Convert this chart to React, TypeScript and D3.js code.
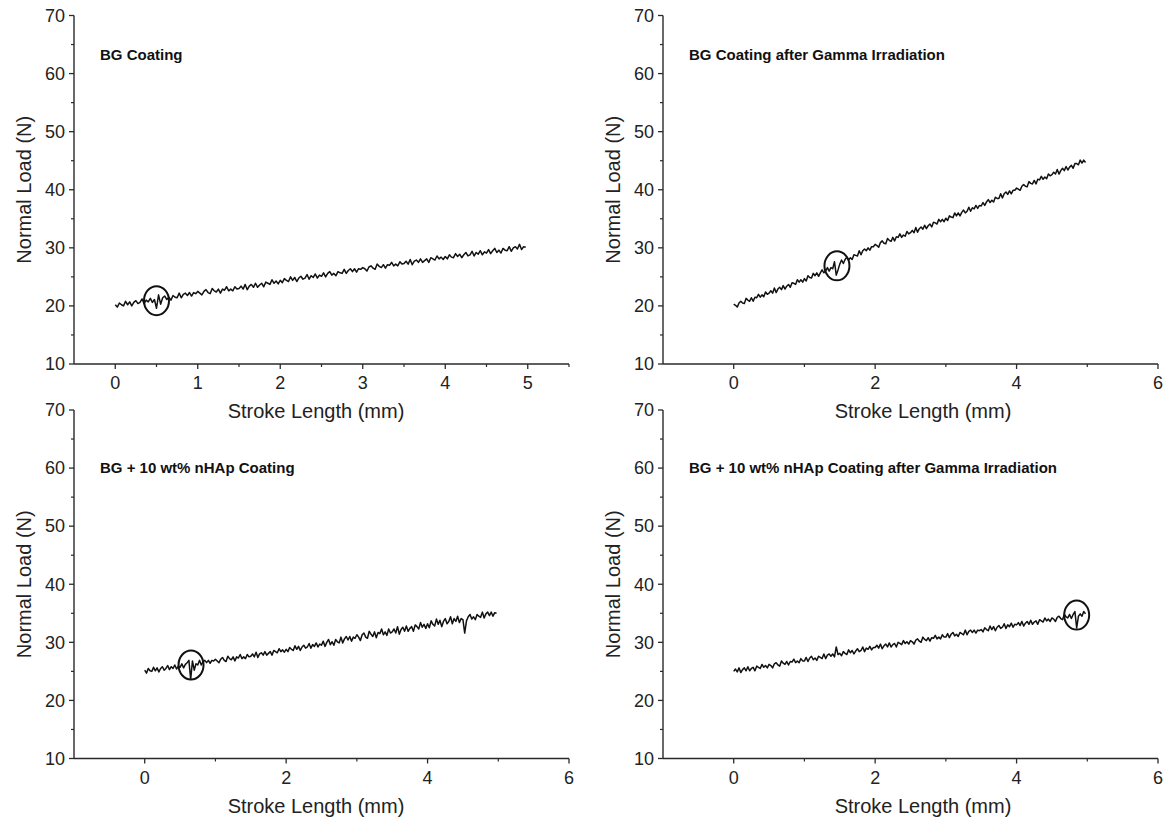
import React from "react";
import * as d3 from "d3";

// ---- data (Normal Load, N) sampled every 0.025 mm of stroke length ----
const STROKE_STEP = 0.025;

const BG_COATING = [
  20.2, 19.8, 20.5, 20.2, 20.0, 20.8, 20.2, 20.7, 20.0, 20.6, 20.9, 20.4, 20.6, 21.2, 20.4, 21.0, 20.7, 21.3, 20.6, 21.1,
  19.6, 21.9, 20.3, 21.4, 21.7, 21.1, 21.5, 21.0, 21.8, 21.5, 21.4, 22.2, 21.4, 22.0, 22.2, 21.8, 22.3, 21.7, 22.3, 22.1,
  22.5, 22.2, 21.9, 22.5, 22.8, 22.3, 22.1, 23.0, 22.6, 22.4, 22.9, 22.2, 22.9, 22.7, 23.3, 22.6, 22.9, 22.6, 23.3, 22.9,
  23.0, 23.4, 22.9, 23.7, 22.8, 23.4, 23.7, 23.2, 23.9, 23.2, 23.6, 23.9, 23.3, 24.1, 23.9, 23.7, 24.5, 23.9, 24.3, 23.8,
  24.4, 24.0, 24.7, 24.4, 24.2, 25.0, 24.4, 24.9, 24.2, 24.8, 25.1, 24.6, 24.8, 25.4, 24.6, 25.2, 24.9, 25.5, 24.8, 25.3,
  25.1, 25.7, 25.0, 25.6, 25.9, 25.3, 25.6, 25.2, 25.9, 25.7, 25.6, 26.3, 25.6, 26.1, 26.4, 25.9, 26.4, 25.8, 26.4, 26.3,
  26.6, 26.4, 26.0, 26.7, 26.9, 26.5, 26.3, 27.2, 26.8, 26.6, 27.1, 26.5, 27.1, 27.0, 27.5, 26.9, 27.2, 26.9, 27.6, 27.2,
  27.3, 27.7, 27.2, 28.0, 27.1, 27.7, 27.9, 27.5, 28.1, 27.5, 27.8, 28.1, 27.5, 28.3, 28.1, 27.9, 28.6, 28.1, 28.4, 28.0,
  28.5, 28.1, 28.8, 28.4, 28.3, 29.0, 28.5, 28.9, 28.3, 28.8, 29.2, 28.6, 28.8, 29.4, 28.6, 29.2, 28.9, 29.5, 28.8, 29.3,
  29.1, 29.7, 29.0, 29.5, 29.9, 29.2, 29.6, 29.1, 29.9, 29.6, 29.5, 30.2, 29.4, 30.0, 30.2, 29.8, 30.6, 29.7, 30.2, 30.1,
];

const BG_GAMMA = [
  20.3, 20.1, 19.8, 20.5, 20.8, 20.5, 20.4, 21.3, 21.0, 20.8, 21.4, 20.8, 21.5, 21.4, 22.0, 21.5, 21.9, 21.6, 22.4, 22.0,
  22.2, 22.6, 22.2, 23.1, 22.3, 22.9, 23.2, 22.8, 23.5, 22.9, 23.4, 23.7, 23.2, 24.0, 23.9, 23.7, 24.5, 24.1, 24.5, 24.1,
  24.7, 24.3, 25.2, 24.9, 24.8, 25.6, 25.2, 25.7, 25.1, 25.7, 26.2, 25.7, 26.0, 26.6, 26.0, 26.6, 26.4, 27.6, 25.3, 26.2,
  27.2, 27.9, 27.3, 28.0, 28.4, 27.9, 28.3, 28.0, 28.8, 28.7, 28.6, 29.5, 28.8, 29.5, 29.8, 29.5, 30.0, 29.6, 30.2, 30.2,
  30.6, 30.4, 30.1, 30.9, 31.2, 30.8, 30.7, 31.6, 31.3, 31.1, 31.8, 31.2, 31.9, 31.8, 32.4, 31.8, 32.2, 32.0, 32.8, 32.4,
  32.6, 33.0, 32.6, 33.5, 32.7, 33.3, 33.6, 33.2, 33.9, 33.3, 33.8, 34.1, 33.6, 34.4, 34.3, 34.1, 34.9, 34.5, 34.9, 34.5,
  35.1, 34.7, 35.5, 35.3, 35.2, 36.0, 35.5, 36.0, 35.5, 36.1, 36.5, 36.0, 36.3, 37.0, 36.3, 36.9, 36.7, 37.3, 36.8, 37.3,
  37.2, 37.8, 37.3, 37.9, 38.3, 37.8, 38.2, 37.9, 38.7, 38.5, 38.5, 39.3, 38.6, 39.3, 39.6, 39.2, 39.8, 39.3, 39.9, 39.9,
  40.3, 40.1, 39.9, 40.6, 40.9, 40.6, 40.5, 41.4, 41.1, 41.0, 41.6, 41.0, 41.8, 41.7, 42.3, 41.8, 42.2, 41.9, 42.7, 42.4,
  42.6, 43.0, 42.7, 43.5, 42.7, 43.3, 43.7, 43.3, 44.0, 43.4, 43.9, 44.2, 43.7, 44.5, 44.5, 44.3, 45.1, 44.6, 45.1, 44.7,
];

const NHAP_COATING = [
  25.2, 24.7, 25.5, 25.1, 25.0, 25.7, 25.1, 25.6, 24.9, 25.5, 25.8, 25.2, 25.5, 26.0, 25.3, 25.8, 25.5, 26.1, 25.4, 25.9,
  25.7, 26.3, 25.6, 26.2, 26.5, 26.9, 23.6, 26.8, 25.2, 26.3, 26.1, 26.9, 26.1, 26.7, 26.9, 26.5, 26.9, 26.4, 26.9, 26.8,
  27.1, 26.8, 26.5, 27.1, 27.4, 26.9, 26.7, 27.6, 27.2, 27.0, 27.5, 26.8, 27.5, 27.3, 27.9, 27.2, 27.5, 27.2, 27.9, 27.5,
  27.6, 28.0, 27.5, 28.3, 27.4, 28.0, 28.2, 27.8, 28.4, 27.8, 28.1, 28.4, 27.8, 28.6, 28.4, 28.2, 28.9, 28.4, 28.7, 28.3,
  28.8, 28.4, 29.1, 28.8, 28.6, 29.4, 28.8, 29.3, 28.6, 29.2, 29.5, 29.0, 29.2, 29.8, 29.0, 29.6, 29.3, 29.9, 29.2, 29.7,
  29.5, 30.2, 29.3, 30.0, 30.5, 29.6, 30.1, 29.5, 30.5, 30.1, 29.9, 30.9, 29.9, 30.6, 31.0, 30.4, 31.0, 30.2, 30.9, 30.7,
  31.3, 30.9, 30.3, 31.3, 31.6, 30.9, 30.7, 31.9, 31.4, 31.0, 31.8, 30.8, 31.7, 31.5, 32.3, 31.3, 31.8, 31.2, 32.3, 31.6,
  31.8, 32.3, 31.6, 32.7, 31.4, 32.2, 32.6, 31.9, 32.8, 31.9, 32.4, 32.7, 31.9, 33.0, 32.7, 32.3, 33.4, 32.6, 33.1, 32.4,
  33.2, 32.5, 33.7, 33.1, 32.8, 34.0, 33.1, 33.8, 32.7, 33.6, 34.1, 33.2, 33.6, 34.4, 33.2, 34.1, 33.6, 34.5, 33.4, 34.1,
  33.9, 31.6, 33.7, 34.4, 34.8, 34.0, 34.4, 33.9, 34.8, 34.5, 34.3, 35.2, 34.2, 34.9, 35.2, 34.6, 35.2, 34.5, 35.1, 35.0,
];

const NHAP_GAMMA = [
  25.0, 25.4, 24.9, 25.6, 24.8, 25.3, 25.6, 25.1, 25.8, 25.1, 25.5, 25.7, 25.1, 25.9, 25.7, 25.5, 26.2, 25.7, 26.0, 25.6,
  26.2, 26.0, 25.6, 26.3, 26.5, 26.1, 25.9, 26.8, 26.4, 26.2, 26.7, 26.1, 26.7, 26.6, 27.1, 26.5, 26.8, 26.5, 27.2, 26.8,
  26.8, 27.4, 26.7, 27.3, 27.6, 27.0, 27.3, 26.9, 27.6, 27.4, 27.2, 28.0, 27.2, 27.8, 28.0, 27.6, 28.0, 27.5, 29.2, 27.9,
  28.1, 27.7, 28.4, 28.1, 27.9, 28.7, 28.2, 28.6, 28.0, 28.5, 28.9, 28.4, 28.6, 29.2, 28.4, 29.0, 28.8, 29.3, 28.7, 29.1,
  29.1, 29.5, 29.0, 29.7, 28.9, 29.4, 29.7, 29.2, 29.9, 29.2, 29.6, 29.8, 29.2, 30.0, 29.8, 29.6, 30.3, 29.8, 30.1, 29.7,
  30.3, 30.1, 29.7, 30.4, 30.6, 30.2, 30.0, 30.9, 30.5, 30.3, 30.8, 30.2, 30.8, 30.7, 31.2, 30.6, 30.9, 30.6, 31.3, 30.9,
  30.9, 31.5, 30.8, 31.4, 31.7, 31.1, 31.4, 31.0, 31.7, 31.5, 31.3, 32.1, 31.3, 31.9, 32.1, 31.7, 32.1, 31.6, 32.1, 32.0,
  32.2, 31.8, 32.5, 32.2, 32.0, 32.8, 32.2, 32.7, 32.0, 32.6, 32.9, 32.4, 32.6, 33.2, 32.4, 33.0, 32.7, 33.3, 32.6, 33.1,
  33.0, 33.4, 32.9, 33.6, 32.8, 33.3, 33.6, 33.1, 33.8, 33.1, 33.5, 33.7, 33.1, 33.9, 33.7, 33.5, 34.2, 33.7, 34.0, 33.6,
  34.2, 34.0, 33.6, 34.3, 34.5, 34.1, 33.9, 34.8, 34.4, 34.2, 34.8, 34.1, 34.8, 35.3, 32.5, 34.5, 34.9, 34.5, 35.3, 34.9,
];

// circled events: [stroke mm, load N]
const EVENTS = [
  [0.5, 20.9],
  [1.46, 26.9],
  [0.655, 26.1],
  [4.85, 34.7],
];

const TITLES = [
  "BG Coating",
  "BG Coating after Gamma Irradiation",
  "BG + 10 wt% nHAp Coating",
  "BG + 10 wt% nHAp Coating after Gamma Irradiation",
];
// load level (N) of each panel's title baseline
const TITLE_LEVELS = [62.4, 62.4, 59.1, 59.1];

const X_DOMAIN_A = [-0.5, 5.5];
const X_DOMAIN_B = [-1, 6];
const X_TICKS_A = [0, 1, 2, 3, 4, 5];
const X_MINOR_A = [0.5, 1.5, 2.5, 3.5, 4.5, 5.5];
const X_TICKS_B = [0, 2, 4, 6];
const X_MINOR_B = [1, 3, 5];
const Y_DOMAIN = [10, 70];
const Y_TICKS = [10, 20, 30, 40, 50, 60, 70];
const Y_MINOR = [15, 25, 35, 45, 55, 65];

const FONT = "'Liberation Sans', Arial, Helvetica, sans-serif";
const AXIS = "#2a2a2a";

type PanelProps = {
  left: number;
  right: number;
  top: number;
  bottom: number;
  xDomain: number[];
  xTicks: number[];
  xMinor: number[];
  values: number[];
  event: number[];
  title: string;
  titleLevel: number;
  xTitleCenter: number;
};

function Panel(p: PanelProps) {
  const x = d3.scaleLinear().domain(p.xDomain).range([p.left, p.right]);
  const y = d3.scaleLinear().domain(Y_DOMAIN).range([p.bottom, p.top]);
  const line = d3
    .line<number>()
    .x((_, i) => x(i * STROKE_STEP))
    .y((d) => y(d));
  const major = 5;
  const minor = 3;
  return (
    <g>
      <line x1={p.left} x2={p.left} y1={y(70)} y2={p.bottom} stroke={AXIS} strokeWidth={1.4} />
      <line x1={p.left} x2={p.right} y1={p.bottom} y2={p.bottom} stroke={AXIS} strokeWidth={1.4} />
      {Y_TICKS.map((t) => (
        <g key={"y" + t}>
          <line x1={p.left - major} x2={p.left} y1={y(t)} y2={y(t)} stroke={AXIS} strokeWidth={1.3} />
          <text x={p.left - 9} y={y(t)} dy="0.35em" textAnchor="end" fontSize={18} fill="#222" fontFamily={FONT}>
            {t}
          </text>
        </g>
      ))}
      {Y_MINOR.map((t) => (
        <line key={"ym" + t} x1={p.left - minor} x2={p.left} y1={y(t)} y2={y(t)} stroke={AXIS} strokeWidth={1.2} />
      ))}
      {p.xTicks.map((t) => (
        <g key={"x" + t}>
          <line x1={x(t)} x2={x(t)} y1={p.bottom} y2={p.bottom + major} stroke={AXIS} strokeWidth={1.3} />
          <text x={x(t)} y={p.bottom + 25} textAnchor="middle" fontSize={18} fill="#222" fontFamily={FONT}>
            {t}
          </text>
        </g>
      ))}
      {p.xMinor.map((t) => (
        <line key={"xm" + t} x1={x(t)} x2={x(t)} y1={p.bottom} y2={p.bottom + minor} stroke={AXIS} strokeWidth={1.2} />
      ))}
      <text x={p.xTitleCenter} y={p.bottom + 54} textAnchor="middle" fontSize={20} fill="#222" fontFamily={FONT}>
        Stroke Length (mm)
      </text>
      <text
        transform={`translate(${p.left - 50},${(p.top + p.bottom) / 2}) rotate(-90)`}
        textAnchor="middle"
        dy="0.35em"
        fontSize={20}
        fill="#222"
        fontFamily={FONT}
      >
        Normal Load (N)
      </text>
      <text x={p.left + 26} y={y(p.titleLevel)} fontSize={15} fontWeight="bold" fill="#111" fontFamily={FONT}>
        {p.title}
      </text>
      <path d={line(p.values) || ""} fill="none" stroke="#111" strokeWidth={1.5} strokeLinejoin="round" />
      <ellipse cx={x(p.event[0])} cy={y(p.event[1])} rx={12.5} ry={14.5} fill="none" stroke="#111" strokeWidth={2} />
    </g>
  );
}

export default function App() {
  return (
    <svg width={1167} height={818} style={{ position: "absolute", left: 0, top: 0, background: "#fff" }}>
      <rect width={1167} height={818} fill="#fff" />
      <Panel left={74} right={569} top={15.5} bottom={364} xDomain={X_DOMAIN_A} xTicks={X_TICKS_A} xMinor={X_MINOR_A}
        values={BG_COATING} event={EVENTS[0]} title={TITLES[0]} titleLevel={TITLE_LEVELS[0]} xTitleCenter={316} />
      <Panel left={663} right={1158} top={15.5} bottom={364} xDomain={X_DOMAIN_B} xTicks={X_TICKS_B} xMinor={X_MINOR_B}
        values={BG_GAMMA} event={EVENTS[1]} title={TITLES[1]} titleLevel={TITLE_LEVELS[1]} xTitleCenter={923} />
      <Panel left={74} right={569} top={410} bottom={758.5} xDomain={X_DOMAIN_B} xTicks={X_TICKS_B} xMinor={X_MINOR_B}
        values={NHAP_COATING} event={EVENTS[2]} title={TITLES[2]} titleLevel={TITLE_LEVELS[2]} xTitleCenter={316} />
      <Panel left={663} right={1158} top={410} bottom={758.5} xDomain={X_DOMAIN_B} xTicks={X_TICKS_B} xMinor={X_MINOR_B}
        values={NHAP_GAMMA} event={EVENTS[3]} title={TITLES[3]} titleLevel={TITLE_LEVELS[3]} xTitleCenter={923} />
    </svg>
  );
}
